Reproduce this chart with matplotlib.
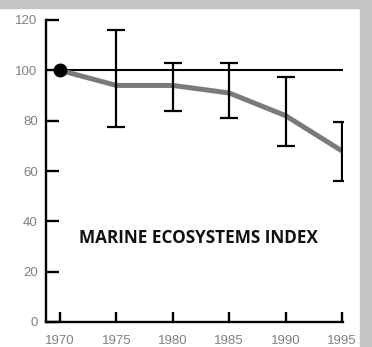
import matplotlib.pyplot as plt
from matplotlib.patches import Rectangle

# marine ecosystems index, 1970 = 100
years = [1970, 1975, 1980, 1985, 1990, 1995]
index = [100, 94, 94, 91, 82, 68]
upper = [100, 116, 103, 103, 97.5, 79.5]
lower = [100, 77.5, 84, 81, 70, 56]
yticks = [0, 20, 40, 60, 80, 100, 120]

fig = plt.figure(figsize=(3.72, 3.47), dpi=100)
fig.patch.set_facecolor('white')
ax = fig.add_axes([46 / 372, 25 / 347, 297 / 372, 302 / 347])
ax.set_facecolor('white')

# baseline at 100
ax.plot([years[0], years[-1]], [100, 100], color='black', lw=1.5, zorder=2)

# index line
ax.plot(years, index, color='#7a7a7a', lw=3.6, zorder=3, solid_capstyle='butt')

# error bars (skip the base year)
err_lo = [i - l for i, l in zip(index, lower)]
err_hi = [u - i for i, u in zip(index, upper)]
ax.errorbar(years[1:], index[1:], yerr=[err_lo[1:], err_hi[1:]], fmt='none',
            ecolor='black', elinewidth=1.6, capsize=6.5, capthick=1.6, zorder=4)

ax.plot([years[0]], [index[0]], 'o', color='black', ms=9, zorder=5)

ax.set_xlim(1968.75, 1995.1)
ax.set_ylim(0, 120)
ax.set_xticks(years)
ax.set_yticks(yticks)
for s in ['top', 'right']:
    ax.spines[s].set_visible(False)
for s in ['left', 'bottom']:
    ax.spines[s].set_linewidth(1.7)
ax.tick_params(axis='y', direction='in', length=9, width=1.7, pad=6,
               labelsize=9.5, labelcolor='#808080')
ax.tick_params(axis='x', direction='in', length=7, width=1.7, pad=9,
               labelsize=9.5, labelcolor='#808080')
for lab in ax.get_xticklabels() + ax.get_yticklabels():
    lab.set_family('Liberation Sans')

ax.text(1982.3, 33.5, 'MARINE ECOSYSTEMS INDEX', ha='center', va='center',
        fontsize=12.3, fontweight='bold', family='Open Sans', color='#111111')

# gray frame at the top and right
fig.patches.append(Rectangle((0, 339 / 347), 1, 8 / 347, transform=fig.transFigure,
                             color='#c4c4c4', zorder=10))
fig.patches.append(Rectangle((360 / 372, 0), 12 / 372, 1, transform=fig.transFigure,
                             color='#c4c4c4', zorder=10))

fig.savefig('out.png', dpi=100)
